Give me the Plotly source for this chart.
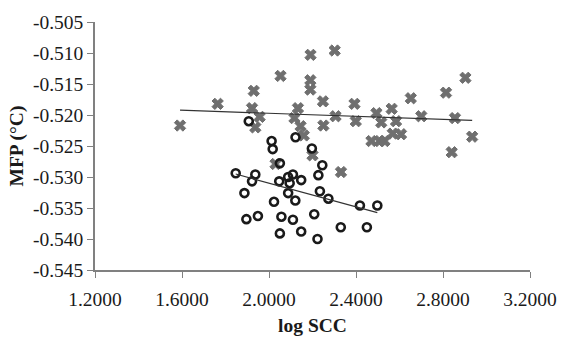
import numpy as np
import plotly.graph_objects as go

# Group 1 (grey crosses)
star_x = [1.591, 1.764, 1.930, 1.922, 1.957, 1.937, 2.053, 2.191, 2.302, 2.190,
          2.190, 2.248, 2.133, 2.117, 2.145, 2.160, 2.250, 2.306, 2.393, 2.399,
          2.494, 2.516, 2.564, 2.584, 2.652, 2.700, 2.569, 2.607, 2.471, 2.509,
          2.531, 2.814, 2.903, 2.855, 2.934, 2.840, 2.200, 2.030, 2.331]
star_y = [-0.5217, -0.5182, -0.5161, -0.5189, -0.5203, -0.5220, -0.5137, -0.5103, -0.5096, -0.5144,
          -0.5159, -0.5178, -0.5189, -0.5205, -0.5218, -0.5233, -0.5217, -0.5202, -0.5182, -0.5210,
          -0.5197, -0.5212, -0.5190, -0.5210, -0.5173, -0.5202, -0.5230, -0.5231, -0.5242, -0.5242,
          -0.5242, -0.5164, -0.5140, -0.5205, -0.5235, -0.5260, -0.5265, -0.5279, -0.5292]

# Group 2 (black open circles)
circ_x = [1.907, 2.012, 2.017, 2.122, 2.197, 2.050, 2.245, 1.847, 1.937, 1.922,
          1.887, 1.896, 1.949, 2.023, 2.047, 2.057, 2.050, 2.088, 2.110, 2.095,
          2.088, 2.148, 2.121, 2.110, 2.148, 2.227, 2.234, 2.273, 2.208, 2.223,
          2.330, 2.418, 2.498, 2.450]
circ_y = [-0.5210, -0.5242, -0.5255, -0.5236, -0.5254, -0.5278, -0.5281, -0.5294, -0.5296, -0.5307,
          -0.5326, -0.5368, -0.5363, -0.5340, -0.5307, -0.5364, -0.5391, -0.5300, -0.5296, -0.5310,
          -0.5326, -0.5305, -0.5338, -0.5369, -0.5388, -0.5297, -0.5323, -0.5335, -0.5360, -0.5400,
          -0.5381, -0.5346, -0.5346, -0.5381]

x_ticks = [1.2, 1.6, 2.0, 2.4, 2.8, 3.2]
x_ticktext = ["1.2000", "1.6000", "2.0000", "2.4000", "2.8000", "3.2000"]
y_ticks = [-0.505, -0.510, -0.515, -0.520, -0.525, -0.530, -0.535, -0.540, -0.545]
y_ticktext = ["-0.505", "-0.510", "-0.515", "-0.520", "-0.525", "-0.530", "-0.535", "-0.540", "-0.545"]


def trend(xs, ys):
    xs = np.array(xs)
    ys = np.array(ys)
    m, b = np.polyfit(xs, ys, 1)
    lx = np.array([xs.min(), xs.max()])
    return lx, m * lx + b


fig = go.Figure()
fig.add_trace(go.Scatter(x=star_x, y=star_y, mode="markers",
                         marker=dict(symbol="x", size=10, color="#6f6f6f",
                                     line=dict(width=1, color="#6f6f6f"))))
fig.add_trace(go.Scatter(x=circ_x, y=circ_y, mode="markers",
                         marker=dict(symbol="circle-open", size=8, color="#1a1a1a",
                                     line=dict(width=2.6, color="#1a1a1a"))))
for xs, ys in [(star_x, star_y), (circ_x, circ_y)]:
    lx, ly = trend(xs, ys)
    fig.add_trace(go.Scatter(x=lx, y=ly, mode="lines",
                             line=dict(color="#333333", width=1.2)))

font_family = "Liberation Serif"
fig.update_layout(
    width=569, height=345,
    margin=dict(l=95, r=31, t=21, b=72),
    paper_bgcolor="white", plot_bgcolor="white",
    showlegend=False,
    font=dict(family=font_family, color="#1a1a1a", size=19),
)
fig.update_xaxes(range=[1.2, 3.2], tickvals=x_ticks, ticktext=x_ticktext,
                 showgrid=False, zeroline=False, showline=True, linecolor="#808080",
                 linewidth=1.5, ticks="outside", ticklen=6, tickcolor="#808080",
                 ticklabelstandoff=5,
                 tickfont=dict(size=19.5, family=font_family),
                 title=dict(text="<b>log SCC</b>", font=dict(size=19.5, family=font_family),
                            standoff=9))
fig.update_yaxes(range=[-0.545, -0.505], tickvals=y_ticks, ticktext=y_ticktext,
                 showgrid=False, zeroline=False, showline=True, linecolor="#808080",
                 linewidth=1.5, ticks="outside", ticklen=6, tickcolor="#808080",
                 tickfont=dict(size=19.5, family=font_family),
                 title=dict(text="<b>MFP (°C)</b>", font=dict(size=19.5, family=font_family),
                            standoff=4))

fig.write_html("out.html")
